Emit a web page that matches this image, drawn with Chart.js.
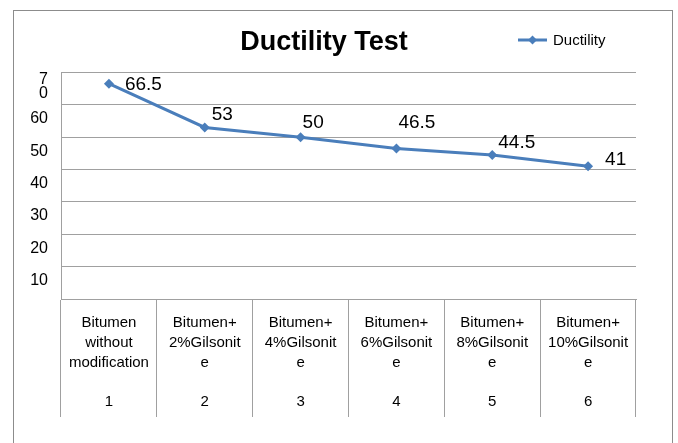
<!DOCTYPE html>
<html>
<head>
<meta charset="utf-8">
<title>Ductility Test</title>
<script src="https://cdn.jsdelivr.net/npm/chart.js@4.4.1/dist/chart.umd.min.js"></script>
<style>
  body { margin: 0; background: #fff; }
  canvas { display: block; }
</style>
</head>
<body>
<canvas id="ductilityChart" width="678" height="443"></canvas>
<script>
const categories = [
    ['Bitumen', 'without', 'modification'],
    ['Bitumen+', '2%Gilsonit', 'e'],
    ['Bitumen+', '4%Gilsonit', 'e'],
    ['Bitumen+', '6%Gilsonit', 'e'],
    ['Bitumen+', '8%Gilsonit', 'e'],
    ['Bitumen+', '10%Gilsonit', 'e']
];
const caseNumbers = ['1', '2', '3', '4', '5', '6'];
const ductility = [66.5, 53, 50, 46.5, 44.5, 41];
const yTickLabels = ['', '10', '20', '30', '40', '50', '60', ['7', '0']];

const FONT = "'Liberation Sans', Arial, sans-serif";
const BLUE = '#4a7ebb';
const GRID = '#a0a0a0';

// category text, blank line, then the case number underneath
const xLabels = categories.map((c, i) => [...c, '', caseNumbers[i]]);

const framePlugin = {
    id: 'frame',
    beforeDraw(chart) {
        const ctx = chart.ctx;
        ctx.save();
        ctx.fillStyle = '#fff';
        ctx.fillRect(0, 0, chart.width, chart.height);
        ctx.strokeStyle = '#8c8c8c';
        ctx.lineWidth = 1;
        ctx.strokeRect(13.5, 10.5, 659, 500);
        ctx.restore();
    }
};

const valueLabelPlugin = {
    id: 'valueLabels',
    afterDatasetsDraw(chart, args, opts) {
        const ctx = chart.ctx;
        const meta = chart.getDatasetMeta(0);
        ctx.save();
        ctx.font = '19px ' + FONT;
        ctx.fillStyle = '#000';
        ctx.textAlign = 'left';
        ctx.textBaseline = 'middle';
        meta.data.forEach((pt, i) => {
            const off = opts.offsets[i];
            ctx.fillText(String(chart.data.datasets[0].data[i]), pt.x + off[0], pt.y + off[1]);
        });
        ctx.restore();
    }
};

const legendPlugin = {
    id: 'sideLegend',
    afterDraw(chart) {
        const ctx = chart.ctx;
        const ds = chart.data.datasets[0];
        const y = 40;
        ctx.save();
        ctx.strokeStyle = BLUE;
        ctx.lineWidth = 3;
        ctx.beginPath();
        ctx.moveTo(518, y);
        ctx.lineTo(547, y);
        ctx.stroke();
        ctx.fillStyle = BLUE;
        ctx.beginPath();
        ctx.moveTo(532.5, y - 4.5);
        ctx.lineTo(537, y);
        ctx.lineTo(532.5, y + 4.5);
        ctx.lineTo(528, y);
        ctx.closePath();
        ctx.fill();
        ctx.fillStyle = '#000';
        ctx.font = '15px ' + FONT;
        ctx.textBaseline = 'middle';
        ctx.fillText(ds.label, 553, y + 1);
        ctx.restore();
    }
};

new Chart(document.getElementById('ductilityChart'), {
    type: 'line',
    data: {
        labels: xLabels,
        datasets: [{
            label: 'Ductility',
            data: ductility,
            borderColor: BLUE,
            backgroundColor: BLUE,
            borderWidth: 3,
            pointStyle: 'rectRot',
            pointRadius: 5,
            pointBorderWidth: 0,
            tension: 0
        }]
    },
    options: {
        responsive: false,
        animation: false,
        layout: { padding: { left: 12, right: 42, top: 10, bottom: 0 } },
        plugins: {
            legend: { display: false },
            tooltip: { enabled: false },
            title: {
                display: true,
                text: 'Ductility Test',
                color: '#000',
                font: { family: FONT, size: 27, weight: 'bold' },
                padding: { top: 16, bottom: 14 }
            },
            valueLabels: {
                offsets: [[16, 1], [7, -13], [2, -14], [2, -26], [6, -12], [17, -7]]
            }
        },
        scales: {
            x: {
                offset: true,
                grid: {
                    offset: true,
                    drawOnChartArea: false,
                    drawTicks: true,
                    tickLength: 118,
                    color: GRID
                },
                border: { display: true, color: GRID },
                ticks: {
                    color: '#000',
                    font: { family: FONT, size: 15, lineHeight: 1.32 },
                    padding: -104,
                    maxRotation: 0,
                    autoSkip: false
                },
                afterFit(scale) { scale.height = 144; }
            },
            y: {
                min: 0,
                max: 70,
                ticks: {
                    stepSize: 10,
                    color: '#000',
                    font: { family: FONT, size: 16, lineHeight: 0.9 },
                    padding: 13,
                    labelOffset: 14,
                    callback: (value, index) => yTickLabels[index]
                },
                grid: { color: GRID, drawTicks: false },
                border: { display: true, color: GRID },
                afterFit(scale) { scale.width = 49; }
            }
        }
    },
    plugins: [framePlugin, valueLabelPlugin, legendPlugin]
});
</script>
</body>
</html>
